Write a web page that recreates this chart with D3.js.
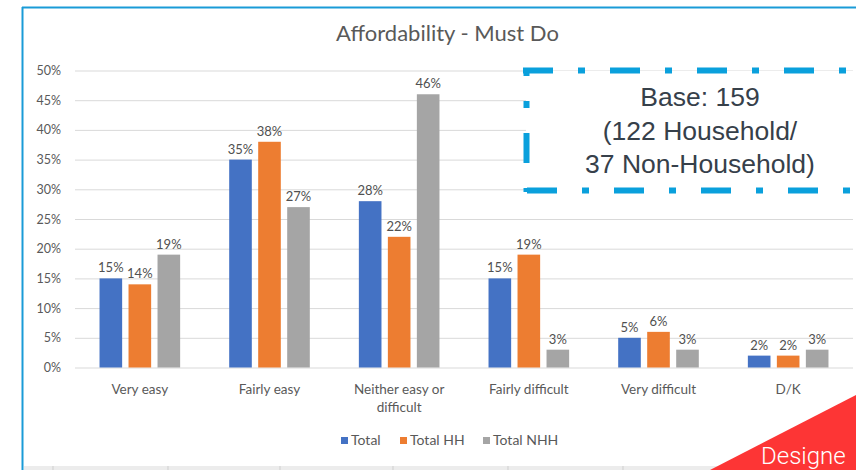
<!DOCTYPE html>
<html>
<head>
<meta charset="utf-8">
<script src="https://cdn.jsdelivr.net/npm/d3@7/dist/d3.min.js"></script>
<style>
  html, body { margin: 0; padding: 0; background: #fff; overflow: hidden; }
  svg { display: block; }
</style>
</head>
<body>
<svg id="chart" width="856" height="470"></svg>
<script>
// Chart data
const categories = ["Very easy", "Fairly easy", "Neither easy or difficult", "Fairly difficult", "Very difficult", "D/K"];
const categoryLines = [["Very easy"], ["Fairly easy"], ["Neither easy or", "difficult"], ["Fairly difficult"], ["Very difficult"], ["D/K"]];
const seriesNames = ["Total", "Total HH", "Total NHH"];
const totalValues = [15, 35, 28, 15, 5, 2];
const totalHHValues = [14, 38, 22, 19, 6, 2];
const totalNHHValues = [19, 27, 46, 3, 3, 3];
const yTicks = [0, 5, 10, 15, 20, 25, 30, 35, 40, 45, 50];
const seriesColors = ["#4472C4", "#ED7D31", "#A5A5A5"];
const baseNote = ["Base: 159", "(122 Household/", "37 Non-Household)"];

const seriesValues = [totalValues, totalHHValues, totalNHHValues];
const rows = categories.map((c, i) => ({
  category: c,
  values: seriesNames.map((s, j) => ({ series: s, value: seriesValues[j][i], color: seriesColors[j] }))
}));

const svg = d3.select("#chart");
const font = "Lato, 'Open Sans', sans-serif";
const textGrey = "#595959";

// Scales
const x0 = d3.scaleBand().domain(categories).range([75, 853]);
const x1 = d3.scaleBand().domain(seriesNames).range([-43.5, 43.5]).paddingInner(0.22).paddingOuter(0.11);
const y = d3.scaleLinear().domain([0, 50]).range([367.5, 70.5]);

// Frame edges
svg.append("line").attr("x1", 22.5).attr("x2", 22.5).attr("y1", 7).attr("y2", 470)
  .attr("stroke", "#1a9bd7").attr("stroke-width", 2);
svg.append("line").attr("x1", 22).attr("x2", 856).attr("y1", 7.5).attr("y2", 7.5)
  .attr("stroke", "#1a9bd7").attr("stroke-width", 2);

// Strip along the bottom edge
svg.append("rect").attr("x", 24).attr("y", 466).attr("width", 832).attr("height", 4).attr("fill", "#ececec");
const stripTicks = [53, 168, 280, 393, 508, 623, 737, 851];
svg.selectAll(".strip-tick").data(stripTicks).enter().append("line")
  .attr("x1", d => d).attr("x2", d => d).attr("y1", 466).attr("y2", 470)
  .attr("stroke", "#cfcfcf").attr("stroke-width", 1);

// Title
svg.append("text").attr("x", 447.5).attr("y", 41)
  .attr("text-anchor", "middle").attr("font-family", font).attr("font-size", 22)
  .attr("fill", textGrey).text("Affordability - Must Do");

// Gridlines and y tick labels via axis
const yAxis = d3.axisLeft(y).tickValues(yTicks).tickFormat(d => d + "%")
  .tickSize(-(853 - 75)).tickPadding(14);
const gy = svg.append("g").attr("transform", "translate(75,0)").call(yAxis);
gy.select(".domain").remove();
gy.selectAll(".tick line").attr("stroke", "#d9d9d9").attr("stroke-width", 1);
gy.selectAll(".tick text").attr("font-family", font).attr("font-size", 12.5).attr("fill", textGrey);

// Bars
const groups = svg.selectAll(".group").data(rows).enter().append("g")
  .attr("transform", d => `translate(${x0(d.category) + x0.bandwidth() / 2},0)`);
groups.selectAll("rect").data(d => d.values).enter().append("rect")
  .attr("x", d => x1(d.series))
  .attr("y", d => y(d.value))
  .attr("width", x1.bandwidth())
  .attr("height", d => y(0) - y(d.value))
  .attr("fill", d => d.color);

// Value labels
groups.selectAll(".val").data(d => d.values).enter().append("text")
  .attr("x", d => x1(d.series) + x1.bandwidth() / 2)
  .attr("y", d => y(d.value) - 6)
  .attr("text-anchor", "middle").attr("font-family", font).attr("font-size", 13)
  .attr("fill", "#505050").text(d => d.value + "%");

// Category labels
const xAxis = d3.axisBottom(x0).tickSize(0).tickFormat("");
svg.append("g").attr("transform", `translate(0,${y(0)})`).call(xAxis).select(".domain").remove();
groups.each(function (d, i) {
  const t = d3.select(this).append("text").attr("text-anchor", "middle")
    .attr("font-family", font).attr("font-size", 13.5).attr("fill", textGrey);
  categoryLines[i].forEach((line, k) => {
    t.append("tspan").attr("x", 0).attr("y", 394 + k * 18).text(line);
  });
});

// Legend
const legendX = [341, 400, 483];
const legend = svg.selectAll(".legend").data(seriesNames).enter().append("g")
  .attr("transform", (d, i) => `translate(${legendX[i]},437)`);
legend.append("rect").attr("width", 7).attr("height", 7).attr("fill", (d, i) => seriesColors[i]);
legend.append("text").attr("x", 10).attr("y", 8).attr("font-family", font).attr("font-size", 14)
  .attr("fill", textGrey).text(d => d);

// Base note box
const boxColor = "#0aa0dc";
const dash = "30,25,7,25";
svg.append("rect").attr("x", 526).attr("y", 71).attr("width", 340).attr("height", 120).attr("fill", "#fff");
svg.append("line").attr("x1", 523).attr("x2", 870).attr("y1", 70.5).attr("y2", 70.5)
  .attr("stroke", boxColor).attr("stroke-width", 6).attr("stroke-dasharray", dash);
svg.append("line").attr("x1", 527).attr("x2", 870).attr("y1", 190.5).attr("y2", 190.5)
  .attr("stroke", boxColor).attr("stroke-width", 6).attr("stroke-dasharray", dash);
svg.append("line").attr("x1", 526.5).attr("x2", 526.5).attr("y1", 71).attr("y2", 192)
  .attr("stroke", boxColor).attr("stroke-width", 6).attr("stroke-dasharray", dash).attr("stroke-dashoffset", 25);
svg.append("text").attr("text-anchor", "middle").attr("font-family", "'Liberation Sans', Arial, sans-serif")
  .attr("font-size", 26.5).attr("fill", "#36404a")
  .selectAll("tspan").data(baseNote).enter().append("tspan")
  .attr("x", 700).attr("y", (d, i) => 106 + i * 33.5).text(d => d);

// Corner ribbon
svg.append("path").attr("d", "M710,470 L856,395 L856,470 Z").attr("fill", "#fd3535");
svg.append("text").attr("x", 761).attr("y", 464).attr("font-family", "Roboto, sans-serif")
  .attr("font-weight", 300).attr("font-size", 24).attr("fill", "#fff").text("Designe");
</script>
</body>
</html>
